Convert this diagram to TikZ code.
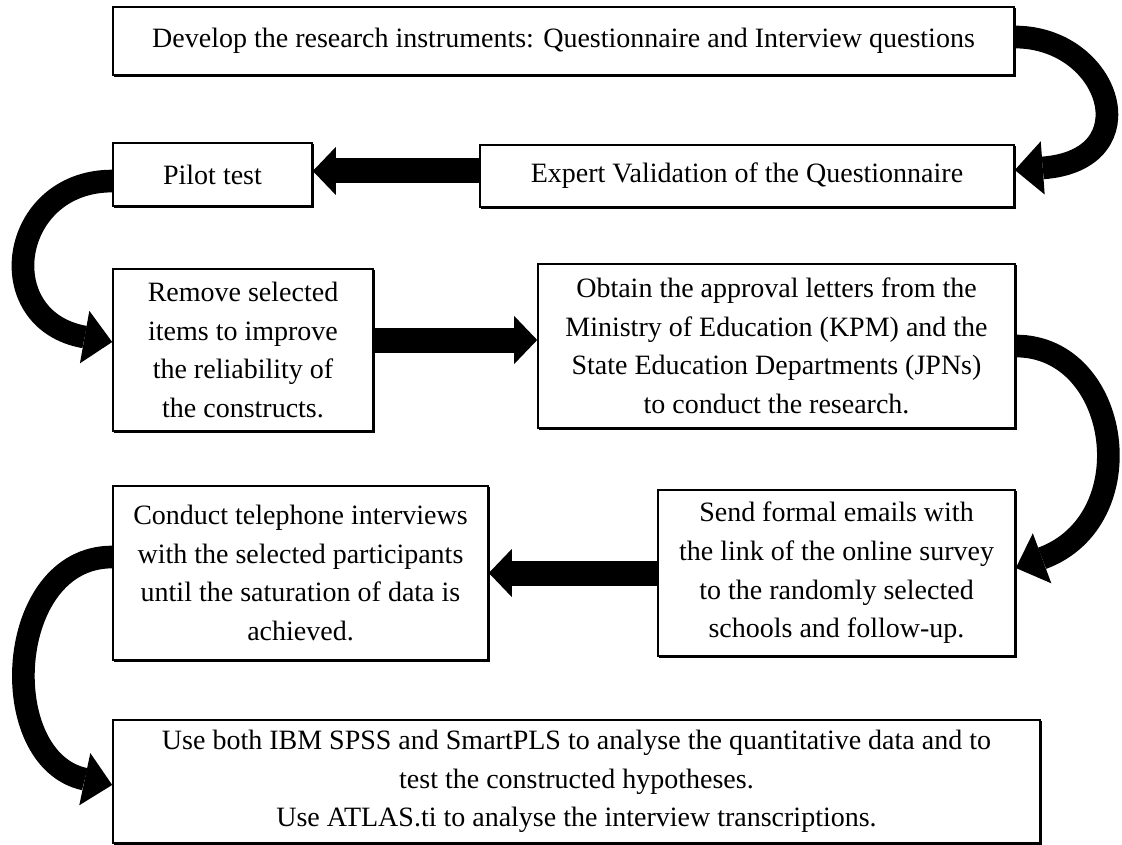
\documentclass[tikz,border=0pt]{standalone}
\usepackage{fontspec}
\setmainfont{Liberation Serif}
\usetikzlibrary{arrows.meta}
\begin{document}
\begin{tikzpicture}[x=0.75pt,y=-0.75pt,
  stepbox/.style={draw=black, line width=1.2pt, fill=white, align=center, inner sep=0pt,
    font=\fontsize{21pt}{29pt}\selectfont,
    preaction={draw=black, line width=1.2pt, transform canvas={shift={(1pt,-1pt)}}}},
  flatarrow/.style={line width=18.75pt, -{Triangle[length=17.25pt,width=36pt,line width=0pt]}},
  bendarrow/.style={line width=17pt, -{Triangle[length=21pt,width=40pt,line width=0pt]}}]
\path[use as bounding box] (0,0) rectangle (1122,845);

% process steps
\node[stepbox, minimum width=675.75pt, minimum height=51pt] (b1) at (563.5,41)
  {Develop the research instruments: Questionnaire and Interview questions};
\node[stepbox, minimum width=400.5pt, minimum height=46.5pt] (b2) at (747,176)
  {Expert Validation of the Questionnaire};
\node[stepbox, minimum width=149.25pt, minimum height=47.25pt] (b3) at (212.5,174.5)
  {Pilot test};
\node[stepbox, minimum width=195pt, minimum height=121.5pt] (b4) at (243,350)
  {Remove selected\\items to improve\\the reliability of\\the constructs.};
\node[stepbox, minimum width=357.75pt, minimum height=123pt] (b5) at (776.5,346)
  {Obtain the approval letters from the\\Ministry of Education (KPM) and the\\State Education Departments (JPNs)\\to conduct the research.};
\node[stepbox, minimum width=267.75pt, minimum height=124.5pt] (b6) at (836.5,573)
  {Send formal emails with\\the link of the online survey\\to the randomly selected\\schools and follow-up.};
\node[stepbox, minimum width=281.25pt, minimum height=130.5pt] (b7) at (300.5,573)
  {Conduct telephone interviews\\with the selected participants\\until the saturation of data is\\achieved.};
\node[stepbox, minimum width=695.25pt, minimum height=92.25pt] (b8) at (576.5,781.5)
  {Use both IBM SPSS and SmartPLS to analyse the quantitative data and to\\test the constructed hypotheses.\\Use ATLAS.ti to analyse the interview transcriptions.};

% straight connectors
\coordinate (s1) at ([yshift=3.75pt]b2.west);
\draw[flatarrow] (s1) -- (s1 -| b3.east);
\coordinate (s2) at ([yshift=7.5pt]b4.east);
\draw[flatarrow] (s2) -- (s2 -| b5.west);
\draw[flatarrow] (b6.west) -- (b7.east);

% curved connectors
\draw[bendarrow] ([yshift=3pt]b1.east) .. controls +(96,0) and +(135,-10) .. ([yshift=4.5pt]b2.east);
\draw[bendarrow] ([yshift=-4.9pt]b3.west) .. controls +(-103,0) and +(-123,-22) .. ([yshift=6pt]b4.west);
\draw[bendarrow] (b5.east) .. controls +(105,0) and +(130,-48) .. ([yshift=3.75pt]b6.east);
\draw[bendarrow] ([yshift=12pt]b7.west) .. controls +(-108,0) and +(-118,-25) .. ([yshift=-2.6pt]b8.west);
\end{tikzpicture}
\end{document}
